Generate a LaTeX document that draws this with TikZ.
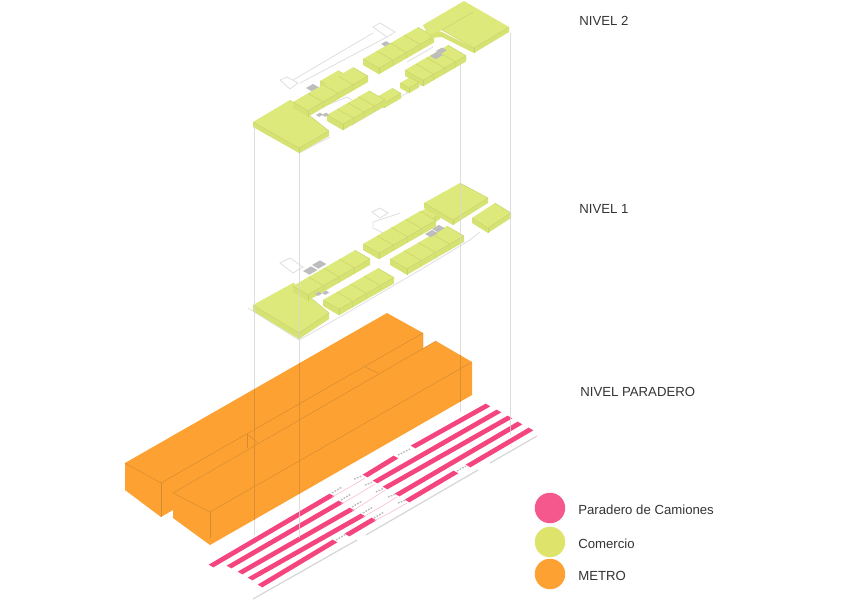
\documentclass[tikz,border=0pt]{standalone}
\usepackage{fontspec}
\setmainfont{Liberation Sans}
\usetikzlibrary{calc}
\definecolor{Comercio}{HTML}{DDE97A}
\definecolor{ComercioSide}{HTML}{D6E272}
\definecolor{ComercioLine}{HTML}{C6D26A}
\definecolor{ComercioDot}{HTML}{DEE36C}
\definecolor{Metro}{HTML}{FDA133}
\definecolor{MetroLine}{HTML}{D38A30}
\definecolor{Paradero}{HTML}{F4457F}
\definecolor{Guide}{HTML}{D6D6D9}
\definecolor{Stair}{HTML}{BDBDBD}

% top face by left, top, right and front corners, then height
\newcommand{\shopslab}[5]{%
  \fill[ComercioSide] (#1) -- (#4) -- (#3) -- ($(#3)+(0,#5)$) -- ($(#4)+(0,#5)$) -- ($(#1)+(0,#5)$) -- cycle;
  \fill[Comercio] (#1) -- (#2) -- (#3) -- (#4) -- cycle;
  \draw[shopline] (#1) -- (#4) -- (#3);
  \draw[shopline] (#2) -- (#3);
  \draw[shopline] (#4) -- ($(#4)+(0,#5)$);
}
\newcommand{\stairpatch}[3]{%
  \fill[Stair] (#1,#2) -- ++(#3,-0.58*#3) -- ++(0.8*#3,0.46*#3) -- ++(-#3,0.58*#3) -- cycle;
}
% left corner, length, width: a row of shops cut in four
\newcommand{\shoprow}[4]{%
  \shopslab{#1,#2}{#1+#3,#2-0.577*#3}{#1+#3+#4,#2-0.577*#3+0.577*#4}{#1+#4,#2+0.577*#4}{6}
  \foreach \i in {0.25,0.5,0.75} {
    \draw[shopline] (#1+\i*#3,#2-0.577*\i*#3) -- ++(#4,0.577*#4) -- ++(0,6);
  }
}
\newcommand{\shopbump}[4]{%
  \shopslab{#1,#2}{#1+#3,#2-0.577*#3}{#1+#3+#4,#2-0.577*#3+0.577*#4}{#1+#4,#2+0.577*#4}{5}
}

\begin{document}
\begin{tikzpicture}[
    x=0.02cm, y=-0.02cm,
    shopline/.style={ComercioLine, line width=0.25pt},
    metroline/.style={MetroLine, line width=0.25pt},
    guide/.style={Guide, line width=0.55pt},
    outline/.style={Guide!80, line width=0.45pt},
    track/.style={Guide, line width=0.7pt},
    levellabel/.style={font=\fontsize{7.5pt}{9pt}\selectfont, text=black!80, anchor=west, inner sep=0pt},
    legenddot/.style={circle, minimum size=0.61cm, inner sep=0pt}
]
\useasboundingbox (0,0) rectangle (850,600);

% =============================================
% METRO
% =============================================
\fill[Metro] (125,463) -- (387,313) -- (423,333) -- (423,349) -- (173,493) -- (173,510) -- (161,517) -- (125,490) -- cycle;
\fill[Metro] (173,493) -- (436,341) -- (472,362) -- (472,395) -- (210,545) -- (173,518) -- cycle;
\draw[metroline] (125,463) -- (161,483) -- (423,333) -- (423,349);
\draw[metroline] (161,483) -- (161,517);
\draw[metroline] (173,493) -- (210,512) -- (472,362);
\draw[metroline] (210,512) -- (210,538);
\draw[metroline] (247,434) -- (247,448);
\draw[metroline] (247,434) -- (258,443);
\draw[metroline] (365,367) -- (378,373);
\draw[metroline] (173,493) -- (436,341);

% =============================================
% PARADERO DE CAMIONES
% =============================================
\foreach \xa/\ya/\xb/\yb in {
    211/566/332/495, 365/476/396/457, 413/447/488/405,
    229/567/341/502, 375/482/499/411,
    240/573/352/509, 385/488/510/417,
    250/579/363/515, 397/495/520/423,
    260/586/335/541, 347/535/374/519, 407/501/456/472, 468/466/531/429} {
  \fill[Paradero] (\xa-2.35,\ya-1.37) -- (\xb-2.35,\yb-1.37) -- (\xb+2.35,\yb+1.37) -- (\xa+2.35,\ya+1.37) -- cycle;
}
\foreach \xa/\ya/\xb/\yb in {
    332/495/365/476, 341/502/375/482, 352/509/385/488, 363/515/397/495, 374/519/407/501} {
  \draw[Paradero!45, line width=0.25pt] (\xa,\ya+2) .. controls ($(\xa,\ya)!0.5!(\xb,\yb)+(-1,3)$) .. (\xb,\yb+2);
}
% small marks in the gaps
\foreach \xa/\ya/\xb/\yb in {
    332/493/342/487, 341/500/351/494, 352/507/362/501, 363/513/373/507, 374/518/384/512,
    354/479/362/476, 365/485/373/482, 376/492/384/488, 388/497/396/494, 398/503/406/500,
    398/455/410/449, 457/471/466/466, 336/540/346/534} {
  \draw[Stair, line width=0.8pt, dash pattern=on 1pt off 0.7pt] (\xa,\ya) -- (\xb,\yb);
}
\draw[track] (253,599) -- (357,540);
\draw[track] (366,535) -- (478,470);
\draw[track] (490,463) -- (537,436);

% =============================================
% NIVEL 1
% =============================================
\draw[outline] (248,308) -- (299,340) -- (340,317) -- (352,310) -- (420,270) -- (470,240) -- (480,232);
\draw[outline] (280,263) -- (290,258) -- (303,267) -- (293,273) -- cycle;
\draw[outline] (372,212) -- (380,208) -- (388,213) -- (380,218) -- cycle;
\draw[outline] (373,222) -- (373,228) -- (385,234);
\draw[outline] (373,222) -- (400,213);
\shopslab{253,305}{293,283}{329,313}{299,333}{6}
\shoprow{293}{286}{62}{15}
\shoprow{323}{300}{55}{16}
\shopbump{418}{213}{10}{12}
\shoprow{363}{244}{57}{16}
\shoprow{390}{259}{57}{17}
\shopslab{424,203}{460,183}{488,198}{453,220}{5}
\shopslab{472,218}{495,203}{511,213}{488,228}{5}
\stairpatch{303}{271}{8}
\stairpatch{312}{265}{8}
\stairpatch{425}{234}{7}
\stairpatch{432}{229}{7}
\stairpatch{315}{294}{4}
\stairpatch{322}{293}{4}

% =============================================
% NIVEL 2
% =============================================
\draw[outline] (280,80) -- (287,77) -- (298,83) -- (290,89) -- cycle;
\draw[outline] (293,80) -- (373,33);
\draw[outline] (300,83) -- (387,37);
\draw[outline] (373,27) -- (380,23) -- (395,32) -- (387,37) -- cycle;
\draw[outline] (299,153) -- (330,137);
\draw[outline] (352,125) -- (407,93) -- (467,58);
\draw[outline] (407,62) -- (433,47);
\draw[outline] (307,113) -- (347,97) -- (352,100);
\shopslab{253,122}{290,100}{329,131}{299,148}{5}
\shopbump{320}{81}{18}{8}
\shoprow{293}{102}{60}{15}
\shopbump{375}{98}{17}{9}
\shoprow{327}{115}{42}{16}
\shoprow{363}{59}{55}{16}
\shoprow{405}{70}{43}{18}
\shopbump{400}{83}{10}{9}
\fill[ComercioSide] (423,25) -- (442,32) -- (474,48) -- (509,27) -- (509,32) -- (474,53) -- (442,37) -- (430,38) -- cycle;
\fill[Comercio] (423,25) -- (464,1) -- (509,27) -- (474,48) -- (442,30) -- (430,35) -- cycle;
\draw[shopline] (442,30) -- (474,48) -- (509,27);
\draw[shopline] (442,30) -- (473,12);
\draw[shopline] (474,48) -- (474,53);
\stairpatch{306}{88}{7}
\stairpatch{381}{44}{5}
\stairpatch{430}{56}{7}
\stairpatch{436}{51}{6}
\stairpatch{316}{115}{4}
\stairpatch{322}{115}{4}

% =============================================
% VERTICAL GUIDES
% =============================================
\foreach \gx/\gy/\gz in {254/127/535, 299/153/538, 460/63/412, 510/33/435} {
  \draw[guide, opacity=0.8] (\gx,\gy) -- (\gx,\gz);
}
\foreach \gx/\gy/\gz in {254/389/520, 299/363/494, 460/355/402} {
  \draw[MetroLine!80!Metro, line width=0.5pt] (\gx,\gy) -- (\gx,\gz);
}

% =============================================
% LABELS AND LEGEND
% =============================================
\node[levellabel] (nivel2) at (579,21) {NIVEL 2};
\node[levellabel] (nivel1) at (579,209) {NIVEL 1};
\node[levellabel] (nivelp) at (580,392) {NIVEL PARADERO};

\node[legenddot, fill=Paradero!90!white] (dotp) at (550,508) {};
\node[legenddot, fill=ComercioDot] (dotc) at (550,542) {};
\node[legenddot, fill=Metro] (dotm) at (550,574) {};
\node[levellabel] (labp) at (578,510) {Paradero de Camiones};
\node[levellabel] (labc) at (578,544) {Comercio};
\node[levellabel] (labm) at (578,576) {METRO};

\end{tikzpicture}
\end{document}
